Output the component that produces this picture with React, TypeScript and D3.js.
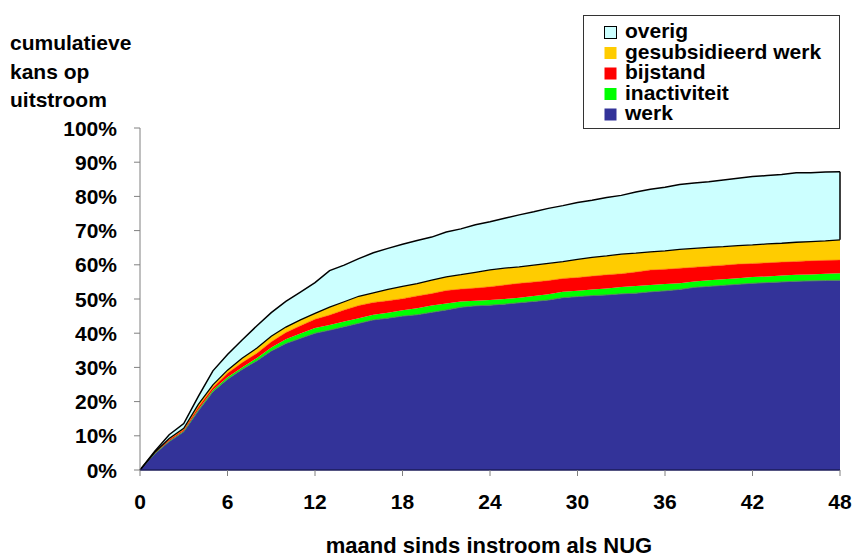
import React from "react";
import * as d3 from "d3";

const months: number[] = d3.range(0, 49);
const xTicks: number[] = [0, 6, 12, 18, 24, 30, 36, 42, 48];
const yTicks: number[] = [0, 10, 20, 30, 40, 50, 60, 70, 80, 90, 100];

const werk: number[] = [0, 4.7, 8.3, 11.2, 17.3, 22.9, 26.5, 29.4, 31.9, 34.8, 37.0, 38.5, 40.0, 40.9, 41.9, 42.9, 43.9, 44.4, 45.0, 45.4, 46.1, 46.8, 47.6, 48.0, 48.2, 48.5, 48.9, 49.3, 49.7, 50.4, 50.7, 51.0, 51.2, 51.5, 51.7, 52.1, 52.4, 52.8, 53.4, 53.7, 54.0, 54.3, 54.6, 54.8, 55.0, 55.2, 55.3, 55.4, 55.5];
const inactiviteit: number[] = [0, 0.1, 0.2, 0.2, 0.4, 0.5, 0.6, 0.6, 0.8, 1.0, 1.2, 1.4, 1.5, 1.5, 1.5, 1.5, 1.5, 1.6, 1.7, 1.9, 2.0, 1.9, 1.7, 1.5, 1.5, 1.5, 1.5, 1.6, 1.7, 1.7, 1.7, 1.8, 1.9, 2.0, 2.1, 2.0, 2.0, 1.8, 1.7, 1.8, 1.8, 1.8, 1.8, 1.8, 1.9, 1.9, 1.9, 2.0, 2.0];
const bijstand: number[] = [0, 0.2, 0.4, 0.4, 0.7, 0.7, 1.2, 1.4, 1.4, 1.7, 2.0, 2.3, 2.6, 2.9, 3.4, 3.7, 3.6, 3.5, 3.4, 3.6, 3.5, 3.8, 3.6, 3.7, 3.9, 4.1, 4.2, 4.1, 4.0, 3.9, 3.9, 3.9, 4.0, 3.9, 4.1, 4.4, 4.3, 4.4, 4.2, 4.1, 4.1, 4.1, 4.0, 4.0, 3.9, 3.9, 4.0, 3.9, 3.9];
const gesubsidieerd: number[] = [0, 0.1, 0.3, 0.4, 0.8, 0.8, 0.9, 1.3, 1.5, 1.6, 1.6, 1.7, 1.7, 2.3, 2.4, 2.7, 2.8, 3.3, 3.6, 3.6, 3.9, 4.0, 4.2, 4.6, 4.9, 4.9, 4.8, 4.9, 5.0, 4.9, 5.3, 5.5, 5.5, 5.7, 5.5, 5.3, 5.4, 5.5, 5.5, 5.5, 5.4, 5.4, 5.4, 5.5, 5.5, 5.6, 5.6, 5.7, 5.9];
const overig: number[] = [0, 0.3, 1.1, 1.4, 2.3, 4.1, 4.6, 5.3, 6.5, 6.9, 7.5, 8.1, 9.0, 10.7, 10.7, 11.0, 11.7, 12.0, 12.3, 12.6, 12.6, 13.1, 13.4, 13.9, 14.1, 14.6, 15.2, 15.6, 16.1, 16.4, 16.6, 16.7, 17.1, 17.2, 17.9, 18.3, 18.6, 19.0, 19.1, 19.2, 19.5, 19.7, 20.0, 20.0, 20.1, 20.3, 20.1, 20.1, 19.9];

const seriesKeys = ["werk", "inactiviteit", "bijstand", "gesubsidieerd", "overig"];
const seriesColors: Record<string, string> = {
  werk: "#333399",
  inactiviteit: "#00FF00",
  bijstand: "#FF0000",
  gesubsidieerd: "#FFCC00",
  overig: "#CCFFFF",
};
const legendItems = [
  { key: "overig", label: "overig" },
  { key: "gesubsidieerd", label: "gesubsidieerd werk" },
  { key: "bijstand", label: "bijstand" },
  { key: "inactiviteit", label: "inactiviteit" },
  { key: "werk", label: "werk" },
];

const FONT = "'Liberation Sans', Arial, Helvetica, sans-serif";

export default function App() {
  const W = 854;
  const H = 554;
  const x = d3.scaleLinear().domain([0, 48]).range([140, 840]);
  const y = d3.scaleLinear().domain([0, 100]).range([470, 128]);

  const table = months.map((m, i) => ({
    month: m,
    werk: werk[i],
    inactiviteit: inactiviteit[i],
    bijstand: bijstand[i],
    gesubsidieerd: gesubsidieerd[i],
    overig: overig[i],
  }));
  const stacked = d3.stack<any>().keys(seriesKeys)(table);

  const area = d3
    .area<any>()
    .x((d) => x(d.data.month))
    .y0((d) => y(d[0]))
    .y1((d) => y(d[1]));
  const topLine = d3
    .line<any>()
    .x((d) => x(d.data.month))
    .y((d) => y(d[1]));

  const byKey: Record<string, any> = {};
  stacked.forEach((s) => (byKey[s.key] = s));
  const last = months.length - 1;
  const ovLast = byKey["overig"][last];

  return (
    <svg
      width={W}
      height={H}
      style={{ position: "absolute", left: 0, top: 0, background: "#fff" }}
      fontFamily={FONT}
      fontWeight="bold"
    >
      <rect x={0} y={0} width={W} height={H} fill="#fff" />
      {stacked.map((s) => (
        <path key={s.key} d={area(s) || ""} fill={seriesColors[s.key]} stroke="none" />
      ))}
      <path d={topLine(byKey["werk"]) || ""} fill="none" stroke="#4f8a5a" strokeWidth={1} />
      <path d={topLine(byKey["bijstand"]) || ""} fill="none" stroke="#ff5a00" strokeWidth={0.6} />
      <path d={topLine(byKey["gesubsidieerd"]) || ""} fill="none" stroke="#000" strokeWidth={1.3} />
      <path d={topLine(byKey["overig"]) || ""} fill="none" stroke="#000" strokeWidth={1.5} />
      <line
        x1={x(48)}
        x2={x(48)}
        y1={y(ovLast[0])}
        y2={y(ovLast[1])}
        stroke="#000"
        strokeWidth={1.5}
      />

      {/* y axis */}
      <line x1={140} x2={140} y1={y(100)} y2={y(0)} stroke="#808080" strokeWidth={1} />
      {yTicks.map((t) => (
        <g key={t}>
          <line x1={134} x2={140} y1={y(t)} y2={y(t)} stroke="#808080" strokeWidth={1} />
          <text x={117} y={y(t) + 7.5} textAnchor="end" fontSize={21} fill="#000">
            {t}%
          </text>
        </g>
      ))}
      {/* x axis */}
      <line x1={x(0)} x2={x(48)} y1={y(0)} y2={y(0)} stroke="#1c1c5a" strokeWidth={1.5} />
      {xTicks.map((t) => (
        <g key={t}>
          <line x1={x(t)} x2={x(t)} y1={y(0)} y2={y(0) + 6} stroke="#808080" strokeWidth={1} />
          <text x={x(t)} y={509} textAnchor="middle" fontSize={21} fill="#000">
            {t}
          </text>
        </g>
      ))}

      {/* axis titles */}
      <text x={10} y={50} fontSize={21} fill="#000">cumulatieve</text>
      <text x={10} y={78.5} fontSize={21} fill="#000">kans op</text>
      <text x={10} y={107} fontSize={21} fill="#000">uitstroom</text>
      <text x={489} y={553} textAnchor="middle" fontSize={22} fill="#000">
        maand sinds instroom als NUG
      </text>

      {/* legend */}
      <rect x={583.5} y={15.5} width={256} height={113} fill="#fff" stroke="#333" strokeWidth={1} />
      {legendItems.map((it, i) => {
        const base = 38 + i * 20.5;
        return (
          <g key={it.key}>
            <rect
              x={604.5}
              y={base - 11.5}
              width={12}
              height={12}
              fill={seriesColors[it.key]}
              stroke={it.key === "overig" ? "#000" : "none"}
              strokeWidth={1}
            />
            <text x={625} y={base} fontSize={21} fill="#000">
              {it.label}
            </text>
          </g>
        );
      })}
    </svg>
  );
}
